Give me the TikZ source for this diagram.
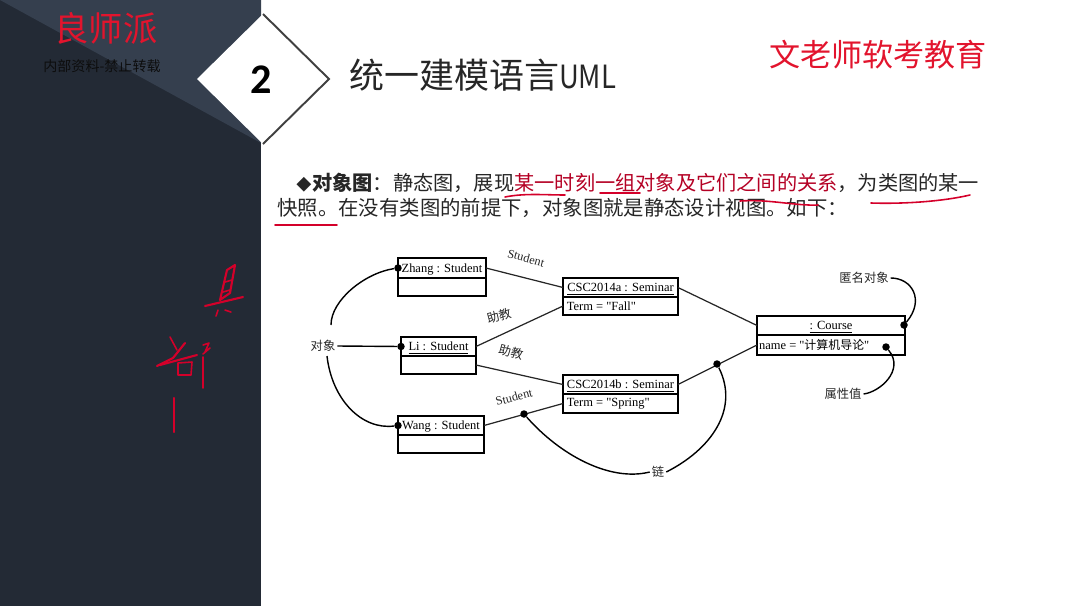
\documentclass[tikz,border=0pt]{standalone}
\usepackage{fontspec}
\setmainfont{Noto Sans CJK SC}
\newfontfamily\figfont{Liberation Serif}
\newfontfamily\numfont{Carlito}
\usetikzlibrary{positioning}
\definecolor{paneldark}{HTML}{232A35}
\definecolor{panellight}{HTML}{353F4E}
\definecolor{markred}{HTML}{D4002A}
\definecolor{headred}{HTML}{E2142D}
\newcommand{\objbox}[7]{%
    \node[objhead, minimum width=#4*0.02cm, minimum height=#5*0.02cm] (#1) at (#2,#3) {\underline{#7}};
    \node[objbody, minimum width=#4*0.02cm, minimum height=#6*0.02cm] (#1body) at (#1.south west) {};
}
\begin{document}
\begin{tikzpicture}[
        x=0.02cm, y=-0.02cm,
        objhead/.style={
            draw,
            line width=0.8pt,
            anchor=north west,
            inner sep=0pt,
            outer sep=0pt,
            text height=5pt,
            text depth=0pt,
            font=\figfont\fontsize{7.1}{8}\selectfont
        },
        objbody/.style={
            draw,
            line width=0.8pt,
            anchor=north west,
            inner sep=0pt,
            outer sep=0pt
        },
        attr/.style={
            anchor=west,
            inner sep=0pt,
            font=\figfont\fontsize{7.1}{8}\selectfont
        },
        tag/.style={
            inner sep=1pt,
            text=black!85,
            font=\fontsize{7}{8}\selectfont
        },
        role/.style={
            inner sep=0pt,
            text=black!85,
            font=\figfont\fontsize{7}{8}\selectfont
        },
        dot/.style={
            circle,
            fill=black,
            inner sep=0pt,
            minimum size=0.15cm
        },
        link/.style={
            line width=0.7pt,
            black!85
        },
        note/.style={
            line width=0.8pt,
            black
        },
        hand/.style={
            markred,
            line width=0.9pt,
            line cap=round,
            line join=round
        },
        line1/.style={
            anchor=base west,
            inner sep=0pt,
            text=black!85,
            font=\fontsize{11.5}{14}\selectfont
        }
    ]
        \useasboundingbox (0,0) rectangle (1080,606);

        % --- Left panel ---
        \fill[paneldark] (0,0) rectangle (261,606);
        \fill[panellight] (0,0) -- (261,0) -- (261,143) -- cycle;
        \node[inner sep=0pt, text=headred, font=\fontsize{19.5}{22}\selectfont] (brand) at (106,28) {良师派};
        \node[inner sep=0pt, text=black!95, font=\fontsize{8}{9}\selectfont] (notice) at (102,66) {内部资料-禁止转载};

        % --- Number diamond ---
        \fill[white] (197,79) -- (263,14) -- (329,79) -- (263,144) -- cycle;
        \draw[black!75, line width=1.1pt] (263,14) -- (329,79) -- (263,144);
        \node[inner sep=0pt, font=\numfont\bfseries\fontsize{24}{26}\selectfont] (num) at (261,80) {2};

        % --- Titles ---
        \node[anchor=west, inner sep=0pt, text=black!85, font=\fontsize{19.9}{24}\selectfont] (title) at (349,75) {统一建模语言\scalebox{.86}[1]{\fontsize{18.2}{24}\selectfont UML}};
        \node[inner sep=0pt, text=headred, font=\fontsize{17.7}{22}\selectfont] (teacher) at (878,55) {文老师软考教育};

        % --- Body text ---
        \node[line1] (textA) at (296,190) {\makebox[0.32cm][l]{\scalebox{.75}{◆}}\textbf{对象图}：静态图，展现\textcolor{markred!85!black}{某一时刻一组对象及它们之间的关系}，为类图的某一};
        \node[line1, font=\fontsize{11.6}{14}\selectfont] (textB) at (277,215) {快照。在没有类图的前提下，对象图就是静态设计视图。如下：};

        % --- Object boxes ---
        \objbox{zhang}{398}{258}{88}{20}{18}{Zhang : Student}
        \objbox{li}{401}{337}{75}{19}{18}{Li : Student}
        \objbox{wang}{398}{416}{86}{19}{18}{Wang : Student}
        \objbox{csca}{563}{278}{115}{19}{18}{CSC2014a : Seminar}
        \objbox{cscb}{563}{375}{115}{19}{19}{CSC2014b : Seminar}
        \objbox{course}{757}{316}{148}{19}{20}{: Course}
        \node[attr] (termA) at ([xshift=2pt]cscabody.west) {Term = "Fall"};
        \node[attr] (termB) at ([xshift=2pt]cscbbody.west) {Term = "Spring"};
        \node[attr] (name) at ([xshift=1pt]coursebody.west) {name = "{\normalfont\fontsize{6.8}{8}\selectfont 计算机导论}"};

        % --- Links ---
        \draw[link] (zhang.east) -- (csca.west);
        \draw[link] (li.east) -- (cscabody.west);
        \draw[link] (libody.east) -- (cscb.west);
        \draw[link] (wang.east) -- (cscbbody.west);
        \draw[link] (csca.east) -- (course.west);
        \draw[link] (cscb.east) -- (coursebody.west);

        % --- Link labels ---
        \node[role, rotate=-15] (roleA) at (526,258) {Student};
        \node[tag, rotate=15] (roleB) at (499,316) {助教};
        \node[tag, rotate=-15] (roleC) at (511,352) {助教};
        \node[role, rotate=15] (roleD) at (514,397) {Student};

        % --- Dots ---
        \node[dot] (dotZhang) at (zhang.west) {};
        \node[dot] (dotLi) at (li.west) {};
        \node[dot] (dotWang) at (wang.west) {};
        \node[dot] (dotLinkA) at (524,414) {};
        \node[dot] (dotLinkB) at (717,364) {};
        \node[dot] (dotCourse) at (904,325) {};
        \node[dot] (dotName) at (886,347) {};

        % --- Annotations ---
        \node[tag] (objLabel) at (323,346) {对象};
        \node[tag] (linkLabel) at (658,472) {链};
        \node[tag] (anonLabel) at (864,278) {匿名对象};
        \node[tag] (valueLabel) at (843,394) {属性值};

        \draw[note] (331,325) .. controls (331,300) and (365,273) .. (dotZhang);
        \draw[note] (objLabel.east) -- (dotLi);
        \draw[note] (327,356) .. controls (332,400) and (362,430) .. (dotWang);
        \draw[note] (dotLinkA) .. controls (560,455) and (610,482) .. (linkLabel.west);
        \draw[note] (linkLabel.east) .. controls (710,450) and (740,410) .. (dotLinkB);
        \draw[note] (anonLabel.east) .. controls (912,278) and (925,300) .. (dotCourse);
        \draw[note] (valueLabel.east) .. controls (880,392) and (905,370) .. (dotName);

        % --- Pen marks on the text ---
        \draw[hand] (505,197) .. controls (525,193) and (545,195) .. (565,195);
        \draw[hand] (600,193) -- (640,193);
        \draw[hand] (740,201) .. controls (770,199) and (795,206) .. (818,205);
        \draw[hand] (871,203) .. controls (900,204) and (940,202) .. (970,195);
        \draw[hand] (275,225) -- (337,225);

        % --- Pen marks on the panel ---
        \draw[hand, line width=1.2pt] (235,265) -- (227,270) -- (220,300) -- (230,293) -- cycle;
        \draw[hand] (225,282) -- (232,280);
        \draw[hand] (223,292) -- (230,290);
        \draw[hand, line width=1.2pt] (205,306) -- (243,297);
        \draw[hand] (218,310) -- (216,316);
        \draw[hand] (225,310) -- (231,312);
        \draw[hand, line width=1.2pt] (185,343) -- (173,358) -- (157,366);
        \draw[hand, line width=1.2pt] (160,365) -- (197,355);
        \draw[hand] (170,337) -- (177,350);
        \draw[hand] (178,363) -- (192,362) -- (191,375) -- (178,375) -- cycle;
        \draw[hand] (203,345) -- (209,343) -- (205,352) -- (210,348) -- (203,354);
        \draw[hand, line width=1.1pt] (203,357) -- (203,388);
        \draw[hand, line width=1.2pt] (174,398) -- (174,432);
\end{tikzpicture}
\end{document}
